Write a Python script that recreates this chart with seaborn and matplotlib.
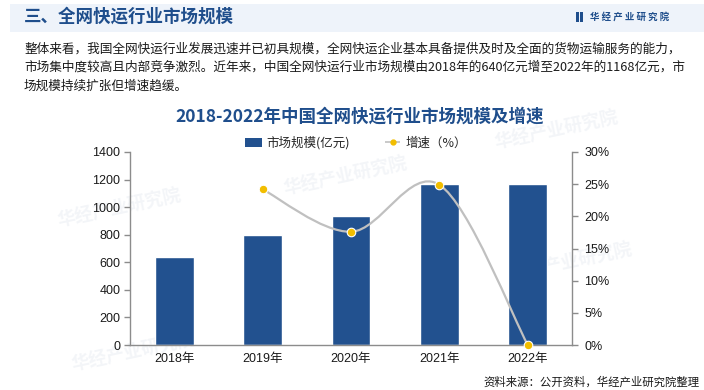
import numpy as np
import pandas as pd
import matplotlib.pyplot as plt
import seaborn as sns
from matplotlib.path import Path
from matplotlib.patches import PathPatch, Rectangle, Patch
from matplotlib.lines import Line2D

# data
years = ["2018年", "2019年", "2020年", "2021年", "2022年"]
scale = [640, 795, 935, 1168, 1168]          # 市场规模(亿元)
growth = [np.nan, 24.2, 17.6, 24.9, 0.0]     # 增速(%)

scale_ticks = [0, 200, 400, 600, 800, 1000, 1200, 1400]
growth_ticks = [0, 5, 10, 15, 20, 25, 30]

BLUE = "#22518F"
TITLE_BLUE = "#1F4E8C"
GOLD = "#F2BE00"
LINE_GRAY = "#C0C0C0"
AXIS_GRAY = "#8C8C8C"


def smooth_path(xs, ys):
    # Excel-like smoothed line: cubic bezier through every point
    verts = [(xs[0], ys[0])]
    codes = [Path.MOVETO]
    n = len(xs)
    for i in range(n - 1):
        x0, y0 = (xs[i - 1], ys[i - 1]) if i > 0 else (xs[i], ys[i])
        x3, y3 = (xs[i + 2], ys[i + 2]) if i + 2 < n else (xs[i + 1], ys[i + 1])
        c1 = (xs[i] + (xs[i + 1] - x0) / 6, ys[i] + (ys[i + 1] - y0) / 6)
        c2 = (xs[i + 1] - (x3 - xs[i]) / 6, ys[i + 1] - (y3 - ys[i]) / 6)
        verts += [c1, c2, (xs[i + 1], ys[i + 1])]
        codes += [Path.CURVE4] * 3
    return Path(verts, codes)


sns.set_theme(style="white")
plt.rcParams["font.family"] = ["Liberation Sans", "Noto Sans CJK SC", "DejaVu Sans"]
CJK = ["Noto Sans CJK SC", "DejaVu Sans"]

fig = plt.figure(figsize=(7.04, 3.9), dpi=100)
fig.patch.set_facecolor("white")

# faint watermarks, behind everything
for wx, wy in [(0.08, 0.42), (0.40, 0.50), (0.72, 0.28), (0.70, 0.62), (0.10, 0.05)]:
    fig.text(wx, wy, "华经产业研究院", family=CJK, fontsize=13, fontweight="bold",
             color="#B8C4D6", alpha=0.16, rotation=12, zorder=-1)

# header band
fig.patches.append(Rectangle((10 / 704, 1 - 32 / 390), 1, 28 / 390, transform=fig.transFigure,
                             facecolor="#EEF3FA", edgecolor="none", zorder=-0.5))
fig.text(24 / 704, 1 - 17 / 390, "三、全网快运行业市场规模", family=CJK, fontsize=12.6,
         fontweight="bold", color=TITLE_BLUE, va="center", ha="left")
for dx in (0, 4):
    fig.patches.append(Rectangle(((576 + dx) / 704, 1 - 22 / 390), 2.5 / 704, 10 / 390,
                                 transform=fig.transFigure, facecolor=TITLE_BLUE,
                                 edgecolor="none"))
fig.text(590 / 704, 1 - 17 / 390, "华 经 产 业 研 究 院", family=CJK, fontsize=6.8,
         fontweight="bold", color=TITLE_BLUE, va="center", ha="left")

para = [
    "整体来看，我国全网快运行业发展迅速并已初具规模，全网快运企业基本具备提供及时及全面的货物运输服务的能力，",
    "市场集中度较高且内部竞争激烈。近年来，中国全网快运行业市场规模由2018年的640亿元增至2022年的1168亿元，市",
    "场规模持续扩张但增速趋缓。",
]
for i, line in enumerate(para):
    fig.text(24 / 704, 1 - (49 + 18.5 * i) / 390, line, family=CJK, fontsize=9.1,
             color="#1A1A1A", va="center", ha="left")

fig.text(360 / 704, 1 - 117 / 390, "2018-2022年中国全网快运行业市场规模及增速", family=CJK,
         fontsize=12.6, fontweight="bold", color=TITLE_BLUE, va="center", ha="center")

# main axes
ax = fig.add_axes([130 / 704, 45 / 390, 442 / 704, 193 / 390])
df = pd.DataFrame({"年份": years, "规模": scale})
sns.barplot(data=df, x="年份", y="规模", color=BLUE, width=0.44, saturation=1, ax=ax)
ax.set_xlim(-0.5, 4.5)
ax.set_ylim(0, 1400)
ax.set_yticks(scale_ticks)
ax.set_xlabel("")
ax.set_ylabel("")
ax.set_facecolor("none")
for s in ["top", "right"]:
    ax.spines[s].set_visible(False)
for s in ["left", "bottom"]:
    ax.spines[s].set_color(AXIS_GRAY)
    ax.spines[s].set_linewidth(1)
ax.set_xticks(np.arange(-0.5, 5, 1), minor=True)
ax.tick_params(axis="x", which="major", length=0, pad=6, labelsize=9, colors="#1A1A1A")
ax.tick_params(axis="x", which="minor", length=4, direction="out", color=AXIS_GRAY, width=1)
ax.tick_params(axis="y", length=4, direction="out", color=AXIS_GRAY, width=1, pad=3,
               labelsize=9, labelcolor="#1A1A1A", left=True)
ax.grid(False)

# growth on the twin axis
ax2 = ax.twinx()
ax2.set_ylim(0, 30)
ax2.set_yticks(growth_ticks)
ax2.set_yticklabels([f"{v}%" for v in growth_ticks])
gdf = pd.DataFrame({"x": np.arange(len(years)), "g": growth}).dropna()
ax2.add_patch(PathPatch(smooth_path(gdf["x"].tolist(), gdf["g"].tolist()), facecolor="none",
                        edgecolor=LINE_GRAY, linewidth=1.6, zorder=3))
sns.scatterplot(data=gdf, x="x", y="g", color=GOLD, s=38, edgecolor="white", linewidth=0.8,
                zorder=4, ax=ax2, legend=False, clip_on=False)
ax2.set_xlim(-0.5, 4.5)
ax2.set_xlabel("")
ax2.set_ylabel("")
for s in ["top", "left", "bottom"]:
    ax2.spines[s].set_visible(False)
ax2.spines["right"].set_color(AXIS_GRAY)
ax2.spines["right"].set_linewidth(1)
ax2.tick_params(axis="y", length=4, direction="out", color=AXIS_GRAY, width=1, pad=5,
                labelsize=9, labelcolor="#1A1A1A", right=True)
ax2.grid(False)

handles = [
    Patch(facecolor=BLUE, edgecolor="none"),
    Line2D([0], [0], color=LINE_GRAY, linestyle="--", linewidth=1.2, marker="o",
           markerfacecolor=GOLD, markeredgecolor=GOLD, markersize=3.5),
]
leg = fig.legend(handles, ["市场规模(亿元)", "增速（%）"], loc="center",
                 bbox_to_anchor=(356 / 704, 1 - 143 / 390), ncol=2, frameon=False,
                 columnspacing=2.8, handlelength=1.4, handletextpad=0.3,
                 prop={"family": CJK, "size": 9})

fig.text(700 / 704, 1 - 382 / 390, "资料来源：公开资料，华经产业研究院整理", family=CJK,
         fontsize=8.2, color="#1A1A1A", va="center", ha="right")

fig.savefig("out.png", dpi=100)
